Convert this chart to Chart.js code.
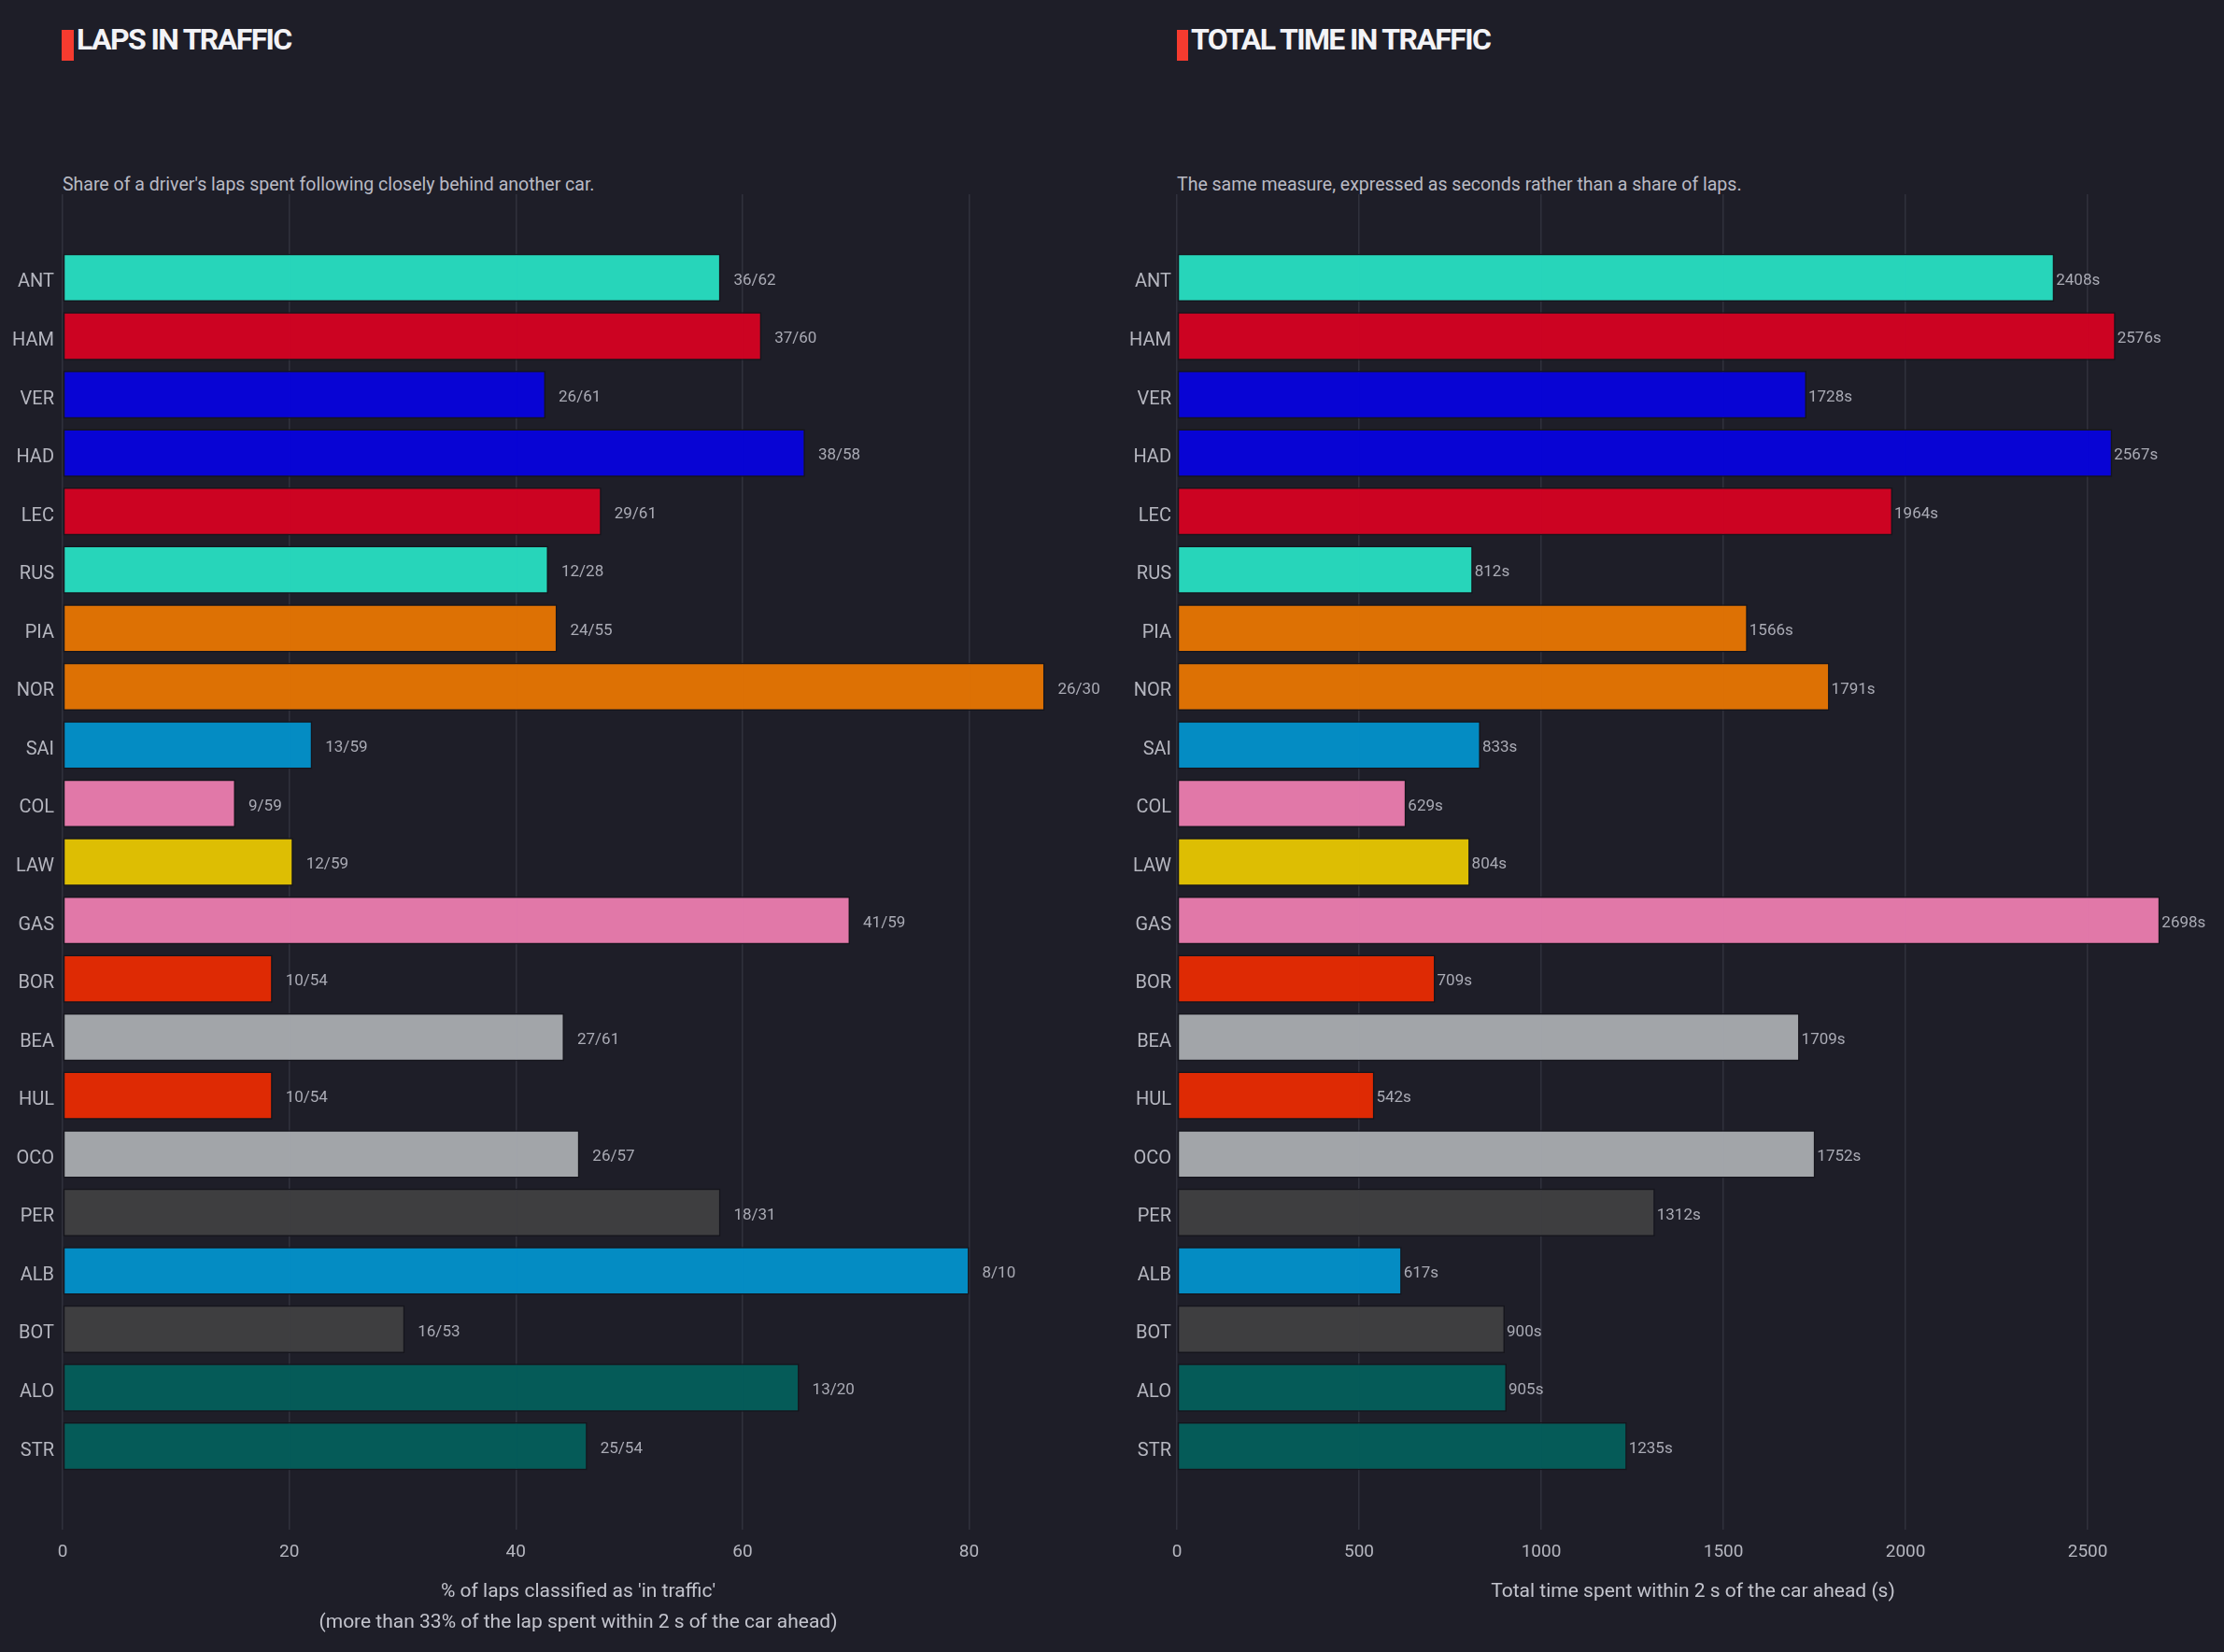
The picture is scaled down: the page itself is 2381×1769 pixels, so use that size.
<!DOCTYPE html>
<html>
<head>
<meta charset="utf-8">
<script src="https://cdn.jsdelivr.net/npm/chart.js@4.4.1/dist/chart.umd.min.js"></script>
<style>
  html, body { margin:0; padding:0; background:#1e1e28; }
  body { width:2381px; height:1769px; position:relative; overflow:hidden; font-family: Roboto, "Open Sans", sans-serif; }
  .marker { position:absolute; background:#f53b2f; }
  .title { position:absolute; color:#f3f3f6; font-weight:700; font-size:32px; line-height:32px; letter-spacing:-1.6px; white-space:nowrap; }
  .sub { position:absolute; color:#b9bac4; font-size:19.5px; line-height:19px; white-space:nowrap; }
  .cv { position:absolute; top:0; }
</style>
</head>
<body>
<div class="marker" style="left:66px;top:32px;width:13px;height:33px;"></div>
<div class="title" style="left:82px;top:26px;">LAPS IN TRAFFIC</div>
<div class="sub" style="left:67px;top:188px;">Share of a driver's laps spent following closely behind another car.</div>

<div class="marker" style="left:1260px;top:32px;width:12px;height:33px;"></div>
<div class="title" style="left:1275px;top:26px;">TOTAL TIME IN TRAFFIC</div>
<div class="sub" style="left:1260px;top:188px;">The same measure, expressed as seconds rather than a share of laps.</div>

<div class="cv" style="left:0;width:1190px;height:1769px;"><canvas id="c1"></canvas></div>
<div class="cv" style="left:1190px;width:1191px;height:1769px;"><canvas id="c2"></canvas></div>

<script>
const drivers = ["ANT","HAM","VER","HAD","LEC","RUS","PIA","NOR","SAI","COL","LAW","GAS","BOR","BEA","HUL","OCO","PER","ALB","BOT","ALO","STR"];
const pctInTraffic = [58.06,61.67,42.62,65.52,47.54,42.86,43.64,86.67,22.03,15.25,20.34,69.49,18.52,44.26,18.52,45.61,58.06,80.00,30.19,65.00,46.30];
const lapLabels = ["36/62","37/60","26/61","38/58","29/61","12/28","24/55","26/30","13/59","9/59","12/59","41/59","10/54","27/61","10/54","26/57","18/31","8/10","16/53","13/20","25/54"];
const secondsInTraffic = [2408,2576,1728,2567,1964,812,1566,1791,833,629,804,2698,709,1709,542,1752,1312,617,900,905,1235];
const teamColors = ["#27dbbf","#d20222","#0703da","#0703da","#d20222","#27dbbf","#e37403","#e37403","#038fc8","#e77bac","#e3c302","#e77bac","#e42a03","#a6a9ad","#e42a03","#a6a9ad","#3f3f41","#038fc8","#3f3f41","#045d5a","#045d5a"];
const leftTicks = [0,20,40,60,80];
const rightTicks = [0,500,1000,1500,2000,2500];

const GRID = "#30313c";
const TICK = "#b5b6bf";
const FAM = 'Roboto, "Open Sans", sans-serif';

function hexA(h, a){ const n=parseInt(h.slice(1),16); return `rgba(${n>>16&255},${n>>8&255},${n&255},${a})`; }

function valueLabels(labels, gap){
  return {
    id:'vl',
    afterDatasetsDraw(chart){
      const ctx = chart.ctx;
      const meta = chart.getDatasetMeta(0);
      ctx.save();
      ctx.font = '17px ' + FAM;
      ctx.fillStyle = "#aaabb5";
      ctx.textAlign = "left";
      ctx.textBaseline = "middle";
      meta.data.forEach((el,i)=>{ ctx.fillText(labels[i], el.x + gap, el.y + 3); });
      ctx.restore();
    }
  };
}

function makeChart(id, values, labels, gap, xMax, xTicks, yWidth, yPad, padRight, xTitle, titlePadBottom){
  const data = values.map((v,i)=>({x:v, y:i}));
  return new Chart(document.getElementById(id), {
    type:'bar',
    data:{ datasets:[{
      data,
      backgroundColor: teamColors.map(c=>hexA(c,0.97)),
      borderColor: "#15151c",
      borderWidth: 1.5,
      borderSkipped: false,
      barPercentage: 0.82,
      categoryPercentage: 1
    }]},
    options:{
      indexAxis:'y',
      responsive:true,
      maintainAspectRatio:false,
      animation:false,
      layout:{ padding:{ top:208, right:padRight, left:0, bottom:0 } },
      plugins:{ legend:{display:false}, tooltip:{enabled:false} },
      scales:{
        y:{
          type:'linear',
          reverse:true,
          offset:false,
          min:-1.43, max:21.43,
          grid:{ display:false, offset:false, drawTicks:false },
          border:{ display:false },
          afterBuildTicks(s){ s.ticks = drivers.map((_,i)=>({value:i})); },
          afterFit(s){ s.width = yWidth; },
          ticks:{ color:TICK, padding:yPad, labelOffset:5, font:{ size:20, family:FAM },
            callback:(v)=>drivers[v] }
        },
        x:{
          type:'linear',
          min:0, max:xMax,
          grid:{ color:GRID, lineWidth:1.5, drawTicks:false },
          border:{ display:false },
          afterBuildTicks(s){ s.ticks = xTicks.map(v=>({value:v})); },
          afterFit(s){ s.height = 131; },
          ticks:{ color:TICK, padding:13, font:{ size:19, family:FAM }, callback:(v)=>String(v) },
          title:{ display:true, text:xTitle, color:"#c3c4cd",
            font:{ size:21, lineHeight:1.58, family:FAM },
            padding:{ top:0, bottom:titlePadBottom } }
        }
      }
    },
    plugins:[valueLabels(labels, gap)]
  });
}

makeChart('c1', pctInTraffic, lapLabels, 14, 91, leftTicks, 67, 9, 19,
  ["% of laps classified as 'in traffic'", "(more than 33% of the lap spent within 2 s of the car ahead)"], 14.5);
makeChart('c2', secondsInTraffic, secondsInTraffic.map(v=>v+"s"), 2, 2833, rightTicks, 70, 6, 16,
  "Total time spent within 2 s of the car ahead (s)", 47.5);
</script>
</body>
</html>
